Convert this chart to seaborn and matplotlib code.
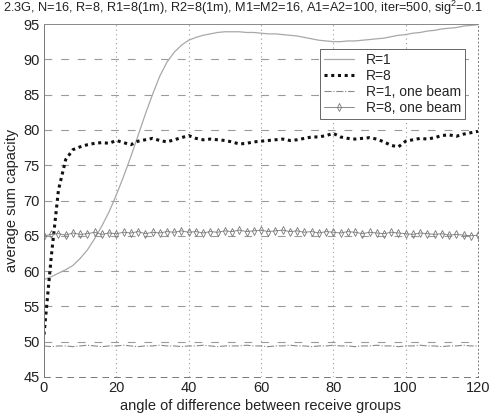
import matplotlib
matplotlib.use("Agg")
import matplotlib.pyplot as plt
import seaborn as sns
import pandas as pd

angles = [0, 2, 4, 6, 8, 10, 12, 14, 16, 18,
          20, 22, 24, 26, 28, 30, 32, 34, 36, 38,
          40, 42, 44, 46, 48, 50, 52, 54, 56, 58,
          60, 62, 64, 66, 68, 70, 72, 74, 76, 78,
          80, 82, 84, 86, 88, 90, 92, 94, 96, 98,
          100, 102, 104, 106, 108, 110, 112, 114, 116, 118,
          120]

r1 = [58.8, 59.2, 59.7, 60.2, 60.8, 61.8, 63.0, 64.6, 66.4, 68.4,
      70.8, 73.4, 76.2, 79.2, 82.2, 85.0, 87.6, 89.6, 91.0, 92.0,
      92.7, 93.1, 93.4, 93.6, 93.8, 93.9, 93.9, 93.9, 93.8, 93.8,
      93.7, 93.6, 93.6, 93.5, 93.4, 93.3, 93.1, 92.9, 92.7, 92.6,
      92.5, 92.5, 92.6, 92.6, 92.7, 92.8, 92.9, 93.0, 93.2, 93.4,
      93.5, 93.7, 93.8, 94.0, 94.1, 94.3, 94.4, 94.5, 94.7, 94.8,
      94.9]

r8 = [51.0, 62.0, 71.5, 75.8, 77.2, 77.6, 77.9, 78.1, 78.2, 78.1,
      78.5, 78.2, 77.9, 78.4, 78.6, 78.8, 78.5, 78.3, 78.6, 78.9,
      79.2, 78.8, 78.6, 78.7, 78.6, 78.5, 78.3, 78.0, 78.1, 78.3,
      78.4, 78.5, 78.6, 78.7, 78.5, 78.6, 78.8, 79.0, 79.0, 79.2,
      79.5, 79.0, 78.8, 78.7, 78.8, 78.9, 78.7, 78.3, 77.8, 77.6,
      78.4, 78.6, 78.8, 78.7, 78.9, 79.2, 79.3, 79.1, 79.4, 79.6,
      79.8]

r1_one = [49.4, 49.3, 49.4, 49.4, 49.3, 49.4, 49.5, 49.4, 49.3, 49.4,
          49.4, 49.5, 49.4, 49.3, 49.4, 49.4, 49.5, 49.4, 49.4, 49.3,
          49.4, 49.4, 49.5, 49.4, 49.3, 49.4, 49.4, 49.4, 49.5, 49.4,
          49.4, 49.3, 49.4, 49.4, 49.5, 49.4, 49.4, 49.3, 49.4, 49.4,
          49.5, 49.4, 49.4, 49.3, 49.4, 49.4, 49.5, 49.4, 49.4, 49.3,
          49.4, 49.4, 49.5, 49.4, 49.4, 49.3, 49.4, 49.4, 49.5, 49.4,
          49.4]

r8_one = [65.0, 65.2, 65.3, 65.1, 65.4, 65.2, 65.3, 65.5, 65.2, 65.4,
          65.3, 65.5, 65.4, 65.6, 65.3, 65.5, 65.4, 65.6, 65.5, 65.7,
          65.5, 65.6, 65.4, 65.6, 65.5, 65.7, 65.6, 65.8, 65.6, 65.7,
          65.8, 65.6, 65.7, 65.8, 65.6, 65.7, 65.5, 65.6, 65.4, 65.6,
          65.5, 65.4, 65.6, 65.5, 65.3, 65.5, 65.4, 65.3, 65.5, 65.4,
          65.3, 65.2, 65.4, 65.3, 65.2, 65.3, 65.1, 65.2, 65.1, 65.0,
          65.1]

series_names = ["R=1", "R=8", "R=1, one beam", "R=8, one beam"]
x_ticks = [0, 20, 40, 60, 80, 100, 120]
y_ticks = [45, 50, 55, 60, 65, 70, 75, 80, 85, 90, 95]
title_text = "2.3G, N=16, R=8, R1=8(1m), R2=8(1m), M1=M2=16, A1=A2=100, iter=500, sig$^2$=0.1"

sns.set_style("white")
plt.rcParams["font.family"] = ["Liberation Sans", "DejaVu Sans"]
plt.rcParams["mathtext.fontset"] = "custom"
plt.rcParams["mathtext.rm"] = "Liberation Sans"

fig = plt.figure(figsize=(4.94, 4.19), dpi=100)
ax = fig.add_axes([44 / 494, 1 - 377 / 419, 434 / 494, 353 / 419])

df = pd.DataFrame({"angle": angles * 4,
                   "cap": r1 + r8 + r1_one + r8_one,
                   "series": sum([[n] * len(angles) for n in series_names], [])})

styles = {
    "R=1": dict(color="#a8a8a8", lw=0.9, ls="-", marker=None),
    "R=8": dict(color="#111111", lw=2.2, ls=(0, (1, 1.2)), marker=None),
    "R=1, one beam": dict(color="#8a8a8a", lw=0.8, ls="-.", marker=None),
    "R=8, one beam": dict(color="#8a8a8a", lw=0.7, ls="-", marker="d"),
}
for name in series_names:
    st = styles[name]
    sub = df[df["series"] == name]
    kw = dict(data=sub, x="angle", y="cap", ax=ax, color=st["color"],
              linewidth=st["lw"], linestyle=st["ls"], label=name)
    if st["marker"]:
        kw.update(marker="d", markersize=4, markerfacecolor="none",
                  markeredgecolor="#777777", markeredgewidth=0.6)
    sns.lineplot(**kw)

ax.set_xlim(0, 120)
ax.set_ylim(45, 95)
ax.set_xticks(x_ticks)
ax.set_yticks(y_ticks)
ax.tick_params(axis="both", direction="in", length=4, width=0.6,
               labelsize=10.5, colors="#222222", pad=3)
for yv in y_ticks[1:-1]:
    ax.axhline(yv, color="#9a9a9a", lw=0.8, ls=(0, (7, 8)), zorder=0)
for xv in x_ticks[1:-1]:
    ax.axvline(xv, color="#9a9a9a", lw=0.8, ls=(0, (1, 3)), zorder=0)
for s in ax.spines.values():
    s.set_color("#777777")
    s.set_linewidth(0.7)
ax.spines["top"].set_color("#888888")
ax.spines["right"].set_linestyle((0, (1, 3)))
ax.spines["bottom"].set_linestyle((0, (6, 6)))

ax.set_xlabel("angle of difference between receive groups", fontsize=10.5,
              color="#222222", labelpad=3)
ax.set_ylabel("average sum capacity", fontsize=10.5, color="#222222", labelpad=3)

fig.text(3 / 494, 1 - 8 / 419, title_text, fontsize=9.2, color="#222222",
         ha="left", va="center")

leg = ax.legend(loc="upper right", bbox_to_anchor=(0.97, 0.93), fontsize=10,
                frameon=True, fancybox=False, framealpha=1, edgecolor="#666666",
                handlelength=2.2, borderpad=0.3, labelspacing=0.15,
                handletextpad=0.8, borderaxespad=0)
leg.get_frame().set_linewidth(0.7)

fig.savefig("out.png", dpi=100)
